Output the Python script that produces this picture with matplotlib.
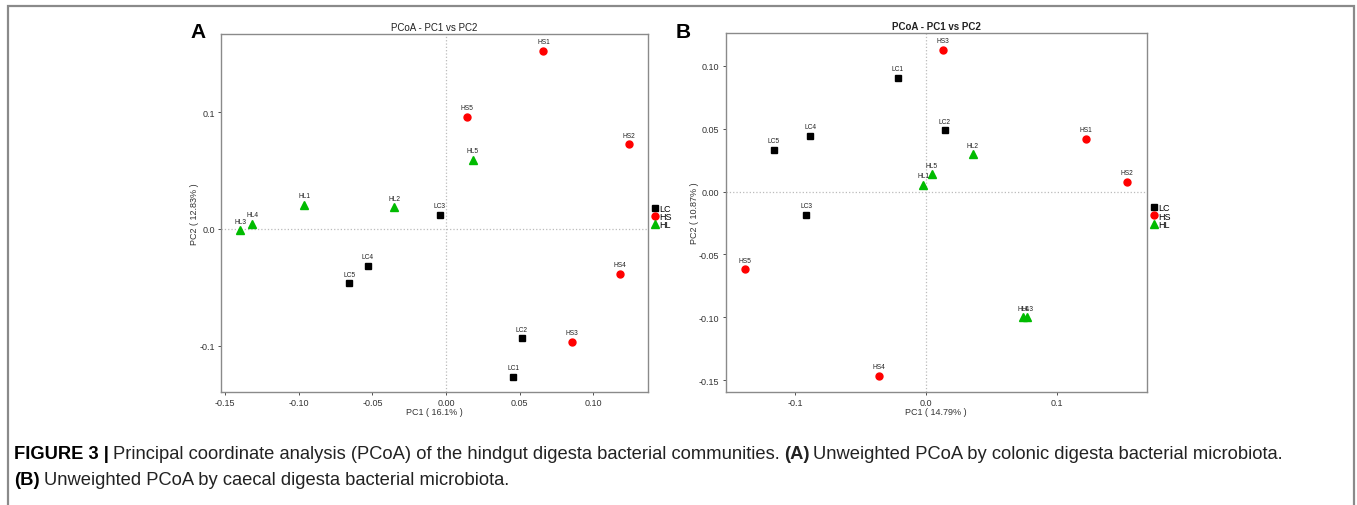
import matplotlib.pyplot as plt
from matplotlib.patches import Rectangle

plt.rcParams['font.family'] = ['Liberation Sans', 'DejaVu Sans']

# Panel A: colonic digesta
a_lc_names = ["LC1", "LC2", "LC3", "LC4", "LC5"]
a_lc_x = [0.0457, 0.0514, -0.0043, -0.0530, -0.0656]
a_lc_y = [-0.1266, -0.0937, 0.0123, -0.0314, -0.0466]
a_hs_names = ["HS1", "HS2", "HS3", "HS4", "HS5"]
a_hs_x = [0.0661, 0.1238, 0.0853, 0.1183, 0.0140]
a_hs_y = [0.1528, 0.0726, -0.0966, -0.0383, 0.0962]
a_hl_names = ["HL1", "HL2", "HL3", "HL4", "HL5"]
a_hl_x = [-0.0964, -0.0351, -0.1398, -0.1315, 0.0181]
a_hl_y = [0.0206, 0.0186, -0.0011, 0.0043, 0.0591]

# Panel B: caecal digesta
b_lc_names = ["LC1", "LC2", "LC3", "LC4", "LC5"]
b_lc_x = [-0.0214, 0.0145, -0.0913, -0.0883, -0.1163]
b_lc_y = [0.0905, 0.0487, -0.0185, 0.0444, 0.0330]
b_hs_names = ["HS1", "HS2", "HS3", "HS4", "HS5"]
b_hs_x = [0.1221, 0.1537, 0.0132, -0.0356, -0.1384]
b_hs_y = [0.0420, 0.0076, 0.1128, -0.1465, -0.0617]
b_hl_names = ["HL1", "HL2", "HL3", "HL4", "HL5"]
b_hl_x = [-0.0020, 0.0356, 0.0773, 0.0743, 0.0046]
b_hl_y = [0.0054, 0.0298, -0.1001, -0.1001, 0.0137]

groups = ["LC", "HS", "HL"]
styles = {"LC": ("s", "black", 5), "HS": ("o", "red", 5), "HL": ("^", "#00bb00", 6)}

fig = plt.figure(figsize=(13.57, 5.06), dpi=100)

# figure frame
fig.patches.append(Rectangle((8 / 1357, -0.05), 1346 / 1357, (506 - 7) / 506 + 0.05,
                             transform=fig.transFigure, fill=False,
                             edgecolor="#8a8a8a", linewidth=1.6))


def panel(ax, data, title, bold, xlim, ylim, xticks, yticks, xfmt, yfmt, xlabel, ylabel):
    ax.axvline(0, color="#bbbbbb", linestyle=":", linewidth=0.9, zorder=0)
    ax.axhline(0, color="#bbbbbb", linestyle=":", linewidth=0.9, zorder=0)
    handles = []
    for g, (names, xs, ys) in zip(groups, data):
        m, c, s = styles[g]
        h, = ax.plot(xs, ys, linestyle="none", marker=m, color=c, markersize=s, label=g)
        handles.append(h)
        for n, x, y in zip(names, xs, ys):
            ax.annotate(n, (x, y), xytext=(0, 4), textcoords="offset points",
                        ha="center", va="bottom", fontsize=4.8, color="#222222")
    ax.set_xlim(*xlim)
    ax.set_ylim(*ylim)
    ax.set_xticks(xticks)
    ax.set_xticklabels([xfmt.format(v) for v in xticks])
    ax.set_yticks(yticks)
    ax.set_yticklabels([yfmt.format(v) for v in yticks])
    ax.tick_params(labelsize=6.5, length=2.5, width=0.6, colors="#333333", pad=2)
    for sp in ax.spines.values():
        sp.set_color("#8a8a8a")
        sp.set_linewidth(1.0)
    ax.set_title(title, fontsize=7, fontweight="bold" if bold else "normal", pad=3, color="#222222")
    ax.set_xlabel(xlabel, fontsize=6.5, labelpad=0, color="#333333")
    ax.set_ylabel(ylabel, fontsize=6.5, labelpad=0, color="#333333")
    ax.legend(handles=handles, loc="center left", bbox_to_anchor=(0.995, 0.49), frameon=False,
              fontsize=6.5, handlelength=0.6, handletextpad=0.2, labelspacing=-0.1,
              borderpad=0.2, markerscale=1.0)


ax_a = fig.add_axes([0.1629, 0.2233, 0.3147, 0.7075])
panel(ax_a,
      [(a_lc_names, a_lc_x, a_lc_y), (a_hs_names, a_hs_x, a_hs_y), (a_hl_names, a_hl_x, a_hl_y)],
      "PCoA - PC1 vs PC2", False, (-0.1527, 0.1371), (-0.1397, 0.1671),
      [-0.15, -0.10, -0.05, 0.0, 0.05, 0.10], [-0.1, 0.0, 0.1], "{:.2f}", "{:.1f}",
      "PC1 ( 16.1% )", "PC2 ( 12.83% )")

ax_b = fig.add_axes([0.5348, 0.2239, 0.3102, 0.7083])
panel(ax_b,
      [(b_lc_names, b_lc_x, b_lc_y), (b_hs_names, b_hs_x, b_hs_y), (b_hl_names, b_hl_x, b_hl_y)],
      "PCoA - PC1 vs PC2", True, (-0.1529, 0.1685), (-0.1593, 0.1259),
      [-0.1, 0.0, 0.1], [-0.15, -0.10, -0.05, 0.0, 0.05, 0.10], "{:.1f}", "{:.2f}",
      "PC1 ( 14.79% )", "PC2 ( 10.87% )")

fig.text(190 / 1357, 1 - 32 / 506, "A", fontsize=15, fontweight="bold", va="center", ha="left")
fig.text(676 / 1357, 1 - 32 / 506, "B", fontsize=15, fontweight="bold", va="center", ha="left")

# caption
cap_fs = 13.2
cap_y1 = 1 - 455 / 506
cap_y2 = 1 - 481 / 506
t = fig.text(14 / 1357, cap_y1, "FIGURE 3 |", fontsize=cap_fs, fontweight="bold", va="center", ha="left")
fig.canvas.draw()
r = fig.canvas.get_renderer()


def after(txt, s, bold=False, y=None):
    bb = txt.get_window_extent(renderer=r)
    x = (bb.x1 + 4) / fig.bbox.width
    return fig.text(x, y if y is not None else cap_y1, s, fontsize=cap_fs,
                    fontweight="bold" if bold else "normal", va="center", ha="left", color="#222222")


t = after(t, "Principal coordinate analysis (PCoA) of the hindgut digesta bacterial communities.")
t = after(t, "(A)", bold=True)
t = after(t, "Unweighted PCoA by colonic digesta bacterial microbiota.")
t = fig.text(14 / 1357, cap_y2, "(B)", fontsize=cap_fs, fontweight="bold", va="center", ha="left")
after(t, "Unweighted PCoA by caecal digesta bacterial microbiota.", y=cap_y2)

fig.savefig("out.png", dpi=100)
